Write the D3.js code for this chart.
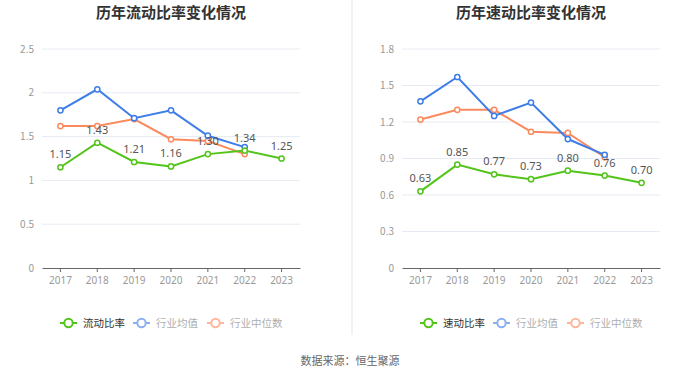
<!DOCTYPE html>
<html>
<head>
<meta charset="utf-8">
<script src="https://cdn.jsdelivr.net/npm/d3@7"></script>
<style>
  body { margin: 0; background: #fff; }
  svg { font-family: "Noto Sans CJK SC", "Noto Sans", sans-serif; }
</style>
</head>
<body>
<svg id="chart" width="700" height="378"></svg>
<script>
// Données
const years = ["2017", "2018", "2019", "2020", "2021", "2022", "2023"];

const liudong = [1.15, 1.43, 1.21, 1.16, 1.30, 1.34, 1.25];
const liudongMoyenne = [1.80, 2.04, 1.71, 1.80, 1.51, 1.38];
const liudongMediane = [1.62, 1.62, 1.70, 1.47, 1.45, 1.30];
const liudongTicks = [0, 0.5, 1, 1.5, 2, 2.5];

const sudong = [0.63, 0.85, 0.77, 0.73, 0.80, 0.76, 0.70];
const sudongMoyenne = [1.37, 1.57, 1.25, 1.36, 1.06, 0.93];
const sudongMediane = [1.22, 1.30, 1.30, 1.12, 1.11, 0.91];
const sudongTicks = [0, 0.3, 0.6, 0.9, 1.2, 1.5, 1.8];

const titles = ["历年流动比率变化情况", "历年速动比率变化情况"];
const legendNames = [["流动比率", "行业均值", "行业中位数"], ["速动比率", "行业均值", "行业中位数"]];

const colors = ["#52c41a", "#3e7de8", "#fb8a5e"];

const svg = d3.select("#chart");

// Séparateur vertical entre les deux graphiques
svg.append("line")
  .attr("x1", 352).attr("x2", 352)
  .attr("y1", 0).attr("y2", 335)
  .attr("stroke", "#f2f2f2")
  .attr("stroke-width", 2);

function drawPanel(offsetX, title, names, series, ticks, fmtTick) {
  const g = svg.append("g").attr("transform", `translate(${offsetX},0)`);
  const left = 42, right = 300, top = 49, bottom = 268;

  const x = d3.scaleBand().domain(years).range([left, right]).padding(0);
  const y = d3.scaleLinear().domain([0, d3.max(ticks)]).range([bottom, top]);

  // Titre
  g.append("text")
    .attr("x", 171).attr("y", 18)
    .attr("text-anchor", "middle")
    .attr("font-size", 15)
    .attr("font-weight", "bold")
    .attr("fill", "#333")
    .text(title);

  // Grille
  g.selectAll(".grid").data(ticks.filter(t => t > 0)).join("line")
    .attr("x1", left).attr("x2", right)
    .attr("y1", d => y(d)).attr("y2", d => y(d))
    .attr("stroke", "#e6eaf2");

  // Axe Y (texte seulement)
  g.selectAll(".ylab").data(ticks).join("text")
    .attr("x", left - 8).attr("y", d => y(d))
    .attr("dy", "0.35em")
    .attr("text-anchor", "end")
    .attr("font-size", 10)
    .attr("fill", "#999")
    .text(fmtTick);

  // Axe X
  const xAxis = g.append("g")
    .attr("transform", `translate(0,${bottom})`)
    .call(d3.axisBottom(x).tickSize(4).tickSizeOuter(0));
  xAxis.select(".domain").attr("stroke", "#666");
  xAxis.selectAll(".tick line").attr("stroke", "#666");
  xAxis.selectAll(".tick text")
    .attr("fill", "#999")
    .attr("font-size", 10)
    .attr("dy", "0.9em")
    .attr("font-family", "Noto Sans, sans-serif");

  const line = d3.line()
    .x((d, i) => x(years[i]) + x.bandwidth() / 2)
    .y(d => y(d));

  // Séries: médiane, moyenne, puis la série principale par-dessus
  [2, 1, 0].forEach(k => {
    const vals = series[k];
    g.append("path")
      .datum(vals)
      .attr("d", line)
      .attr("fill", "none")
      .attr("stroke", colors[k])
      .attr("stroke-width", 2);
    g.selectAll(".pt" + k).data(vals).join("circle")
      .attr("cx", (d, i) => x(years[i]) + x.bandwidth() / 2)
      .attr("cy", d => y(d))
      .attr("r", 2.6)
      .attr("fill", "#fff")
      .attr("stroke", colors[k])
      .attr("stroke-width", 1.5);
  });

  // Étiquettes de la série principale
  g.selectAll(".lbl").data(series[0]).join("text")
    .attr("x", (d, i) => x(years[i]) + x.bandwidth() / 2)
    .attr("y", d => y(d) - 9)
    .attr("text-anchor", "middle")
    .attr("font-size", 11)
    .attr("fill", "#555")
    .attr("font-family", "Noto Sans, sans-serif")
    .text(d => d.toFixed(2));

  // Légende
  const legendX = [60, 133, 207];
  const legend = g.append("g").attr("transform", "translate(0,323)");
  names.forEach((n, k) => {
    const item = legend.append("g")
      .attr("transform", `translate(${legendX[k]},0)`)
      .attr("opacity", k === 0 ? 1 : 0.6);
    item.append("line")
      .attr("x1", 0).attr("x2", 17)
      .attr("stroke", colors[k]).attr("stroke-width", 2);
    item.append("circle")
      .attr("cx", 8.5).attr("r", 4.2)
      .attr("fill", "#fff")
      .attr("stroke", colors[k]).attr("stroke-width", 2);
    item.append("text")
      .attr("x", 23).attr("dy", "0.35em")
      .attr("font-size", 10.5)
      .attr("fill", k === 0 ? "#333" : "#777")
      .text(n);
  });
}

drawPanel(0, titles[0], legendNames[0],
  [liudong, liudongMoyenne, liudongMediane], liudongTicks, d => String(d));
drawPanel(360, titles[1], legendNames[1],
  [sudong, sudongMoyenne, sudongMediane], sudongTicks, d => d === 0 ? "0" : d.toFixed(1));

// Source
svg.append("text")
  .attr("x", 350).attr("y", 365)
  .attr("text-anchor", "middle")
  .attr("font-size", 11)
  .attr("fill", "#666")
  .text("数据来源：恒生聚源");
</script>
</body>
</html>
